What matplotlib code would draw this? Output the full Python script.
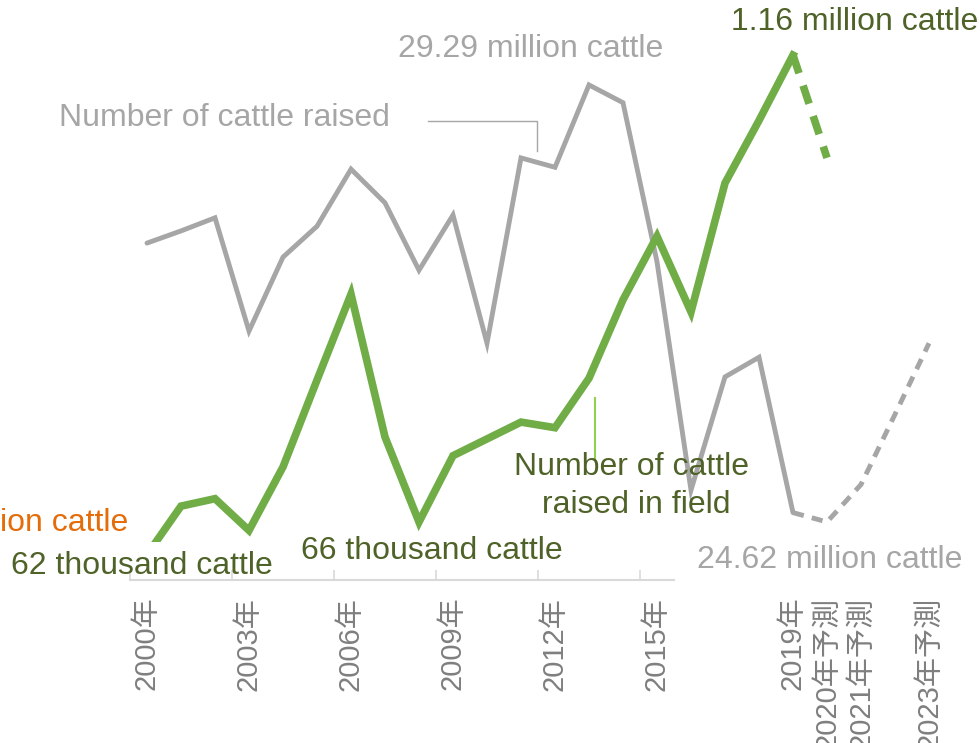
import numpy as np
import matplotlib
matplotlib.use('Agg')
import matplotlib.pyplot as plt

# data
years = list(range(2000, 2024))
# number of cattle raised (million head) 2000-2023, 2020+ are forecasts
cattle = [27.60, 27.73, 27.87, 26.66, 27.45, 27.78, 28.39, 28.03, 27.31, 27.90,
          26.53, 28.51, 28.41, 29.29, 29.10, 27.40, 24.96, 26.17, 26.38, 24.72,
          24.62, 25.02, 25.77, 26.53]
# number of cattle raised in field (thousand head) 2000-2020, 2020 is a forecast
field = [625, 677, 685, 651, 719, 812, 904, 751, 660, 731,
         749, 767, 761, 814, 898, 966, 885, 1023, 1090, 1160, 1050]
last_actual = 2019
tick_years = [2000, 2003, 2006, 2009, 2012, 2015, 2019, 2020, 2021, 2023]
tick_labels = ['2000年', '2003年', '2006年', '2009年', '2012年', '2015年',
               '2019年', '2020年予測', '2021年予測', '2023年予測']

GRAY = '#a6a6a6'
GREEN = '#70ad47'
DKGREEN = '#4f6228'
ORANGE = '#e46c0a'
W, H = 980, 743

plt.rcParams['font.family'] = ['Liberation Sans', 'Noto Sans CJK JP', 'DejaVu Sans']

fig = plt.figure(figsize=(9.8, 7.43), dpi=100)

def px(x0, y0, x1, y1):
    return [x0 / W, 1 - y1 / H, (x1 - x0) / W, (y1 - y0) / H]

ax = fig.add_axes(px(130, 40, 946, 580))
ax2 = fig.add_axes(px(130, 40, 946, 542))

x = np.array(years)
cattle = np.array(cattle)
n = last_actual - years[0] + 1
ax.plot(x[:n], cattle[:n], color=GRAY, lw=3.5, solid_capstyle='round', solid_joinstyle='miter')
ax.plot(x[n - 1:], cattle[n - 1:], color=GRAY, lw=3.5, dashes=(2.3, 1.7))
ax.set_xlim(years[0] - 0.5, years[-1] + 0.5)
ax.set_ylim(24.0, 29.77)

xf = np.array(years[:len(field)])
field = np.array(field)
ax2.plot(xf[:n], field[:n], color=GREEN, lw=5.5, solid_joinstyle='miter')
ax2.plot(xf[n - 1:], field[n - 1:], color=GREEN, lw=5.5, dashes=(2.5, 1.7))
ax2.set_xlim(years[0] - 0.5, years[-1] + 0.5)
ax2.set_ylim(638.6, 1176.2)
ax2.axis('off')
ax2.patch.set_alpha(0)

for s in ['top', 'right', 'left']:
    ax.spines[s].set_visible(False)
ax.spines['bottom'].set_bounds(1999.5, 2015.5)
ax.spines['bottom'].set_color('#d9d9d9')
ax.spines['bottom'].set_linewidth(1.5)
ax.set_yticks([])
ax.set_xticks(tick_years)
ax.set_xticklabels(tick_labels, rotation=90, va='top', ha='center',
                   fontsize=21, color='#7f7f7f')
ax.tick_params(axis='x', which='major', length=0, pad=12)
ax.set_xticks(np.arange(1999.5, 2015, 3), minor=True)
ax.tick_params(axis='x', which='minor', direction='in', length=7, width=1.2, color='#d9d9d9')

fs = 23

def label(xp, yp, s, color, ha='center'):
    fig.text(xp / W, 1 - yp / H, s, color=color, fontsize=fs, ha=ha, va='center')

label(531, 49, '29.29 million cattle', GRAY)
label(224, 118, 'Number of cattle raised', GRAY)
label(855, 22, '1.16 million cattle', DKGREEN)
label(128, 523, '26.62 million cattle', ORANGE, ha='right')
label(142, 566, '62 thousand cattle', DKGREEN)
label(432, 551, '66 thousand cattle', DKGREEN)
label(631, 467, 'Number of cattle', DKGREEN)
label(636, 505, 'raised in field', DKGREEN)
label(830, 560, '24.62 million cattle', GRAY)

# leader lines
fig.add_artist(plt.Line2D([428 / W, 537 / W, 537 / W],
                          [1 - 121 / H, 1 - 121 / H, 1 - 151 / H],
                          color=GRAY, lw=1))
fig.add_artist(plt.Line2D([595 / W, 595 / W], [1 - 398 / H, 1 - 458 / H],
                          color='#92d050', lw=1.5))

fig.savefig('out.png', dpi=100)
